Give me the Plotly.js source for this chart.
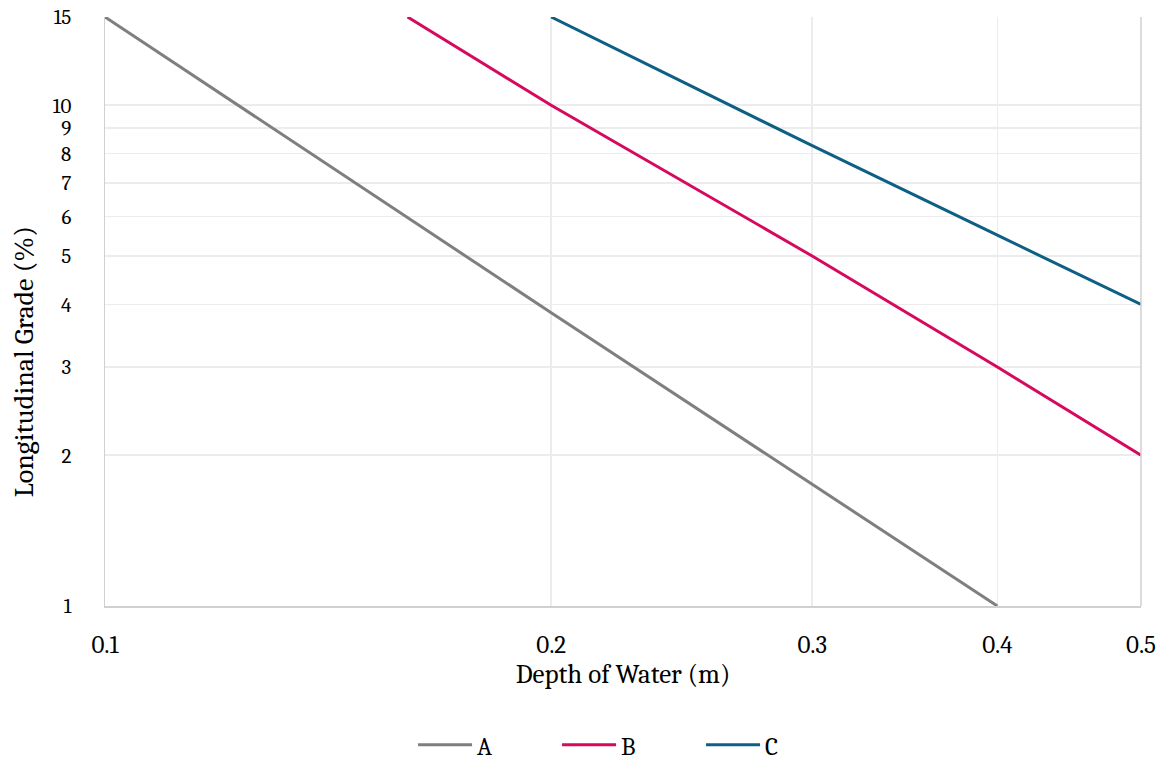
<!DOCTYPE html>
<html>
<head>
<meta charset="utf-8">
<script src="https://cdn.plot.ly/plotly-3.0.1.min.js"></script>
<style>html,body{margin:0;padding:0;background:#fff;}#chart{width:1166px;height:761px;}</style>
</head>
<body>
<div id="chart"></div>
<script>
const seriesNames = ["A", "B", "C"];
const depthA = [0.1, 0.2, 0.3, 0.4];
const gradeA = [15, 3.85, 1.75, 1];
const depthB = [0.16, 0.2, 0.3, 0.4, 0.5];
const gradeB = [15, 10, 5, 3, 2];
const depthC = [0.2, 0.3, 0.4, 0.5];
const gradeC = [15, 8.3, 5.5, 4];
const xTicks = [0.1, 0.2, 0.3, 0.4, 0.5];
const yTicks = [1, 2, 3, 4, 5, 6, 7, 8, 9, 10, 15];
const colors = ["#7f7f7f", "#d6095f", "#0e5f84"];
const xTitle = "Depth of Water (m)";
const yTitle = "Longitudinal Grade (%)";

const font = "Cambria, 'DejaVu Serif', serif";
const traces = [
  {x: depthA, y: gradeA, name: seriesNames[0]},
  {x: depthB, y: gradeB, name: seriesNames[1]},
  {x: depthC, y: gradeC, name: seriesNames[2]}
].map((t, i) => Object.assign(t, {type: "scatter", mode: "lines", line: {color: colors[i], width: 3}}));

const layout = {
  width: 1166, height: 761,
  margin: {l: 105, r: 25, t: 17, b: 155},
  paper_bgcolor: "#fff", plot_bgcolor: "#fff",
  font: {family: font, size: 24, color: "#000"},
  showlegend: true,
  legend: {orientation: "h", x: 0.5395, xanchor: "center", xref: "container", y: 0.021, yanchor: "middle", yref: "container",
           font: {family: font, size: 25}, entrywidth: 75, itemwidth: 54},
  xaxis: {
    type: "log", range: [Math.log10(0.1), Math.log10(0.5)], automargin: false,
    tickvals: xTicks, ticktext: xTicks.map(v => v.toFixed(1)),
    tickfont: {family: font, size: 25},
    ticks: "outside", ticklen: 15, tickcolor: "rgba(0,0,0,0)",
    showgrid: true, gridcolor: "#ececec", gridwidth: 1.5,
    showline: true, linecolor: "#d0d0d0", linewidth: 1.5, mirror: false,
    zeroline: false,
    title: {text: xTitle, font: {family: font, size: 27}, standoff: 6}
  },
  yaxis: {
    type: "log", range: [0, Math.log10(15)], automargin: false,
    tickvals: yTicks, ticktext: yTicks.map(String),
    tickfont: {family: font, size: 21},
    ticks: "outside", ticklen: 28, tickcolor: "rgba(0,0,0,0)",
    showgrid: true, gridcolor: "#ececec", gridwidth: 1.5,
    showline: true, linecolor: "#d0d0d0", linewidth: 1.5,
    zeroline: false
  },
  annotations: [
    {text: yTitle, xref: "paper", yref: "paper", x: -0.0785, y: 0.415, xanchor: "center", yanchor: "middle",
     textangle: -90, showarrow: false, font: {family: font, size: 28}}
  ],
  shapes: [
    {type: "line", xref: "paper", yref: "paper", x0: 1, x1: 1, y0: 0, y1: 1, line: {color: "#d0d0d0", width: 1.5}},
    {type: "line", xref: "paper", yref: "y", x0: 0, x1: 1, y0: 10, y1: 10, line: {color: "#dadada", width: 1.5}, layer: "below"}
  ]
};

Plotly.newPlot("chart", traces, layout, {displayModeBar: false, staticPlot: true});
</script>
</body>
</html>
